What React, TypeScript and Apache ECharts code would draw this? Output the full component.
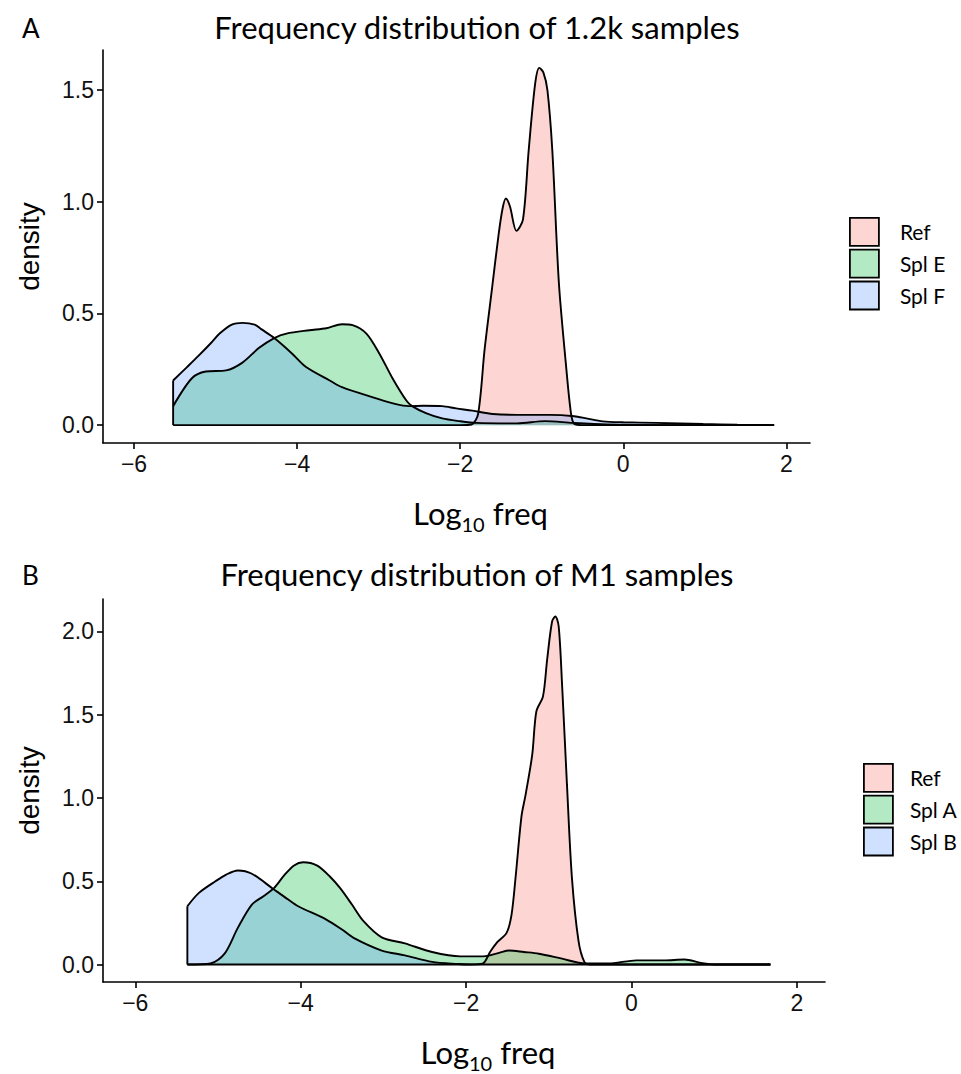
import React, { useEffect, useRef } from "react";
import * as echarts from "echarts";

// ---------- data ----------
const legendA = ["Ref", "Spl E", "Spl F"];
const legendB = ["Ref", "Spl A", "Spl B"];
const titleA = "Frequency distribution of 1.2k samples";
const titleB = "Frequency distribution of M1 samples";
const xTicks = [-6, -4, -2, 0, 2];
const yTicksA = [0, 0.5, 1.0, 1.5];
const yTicksB = [0, 0.5, 1.0, 1.5, 2.0];

const refA: number[][] = [
  [-5.52, 0], [-2.0, 0], [-1.86, 0.003], [-1.78, 0.05], [-1.7, 0.34], [-1.61, 0.61], [-1.53, 0.85],
  [-1.48, 0.97], [-1.44, 1.015], [-1.39, 0.98], [-1.31, 0.87], [-1.23, 0.92], [-1.16, 1.23],
  [-1.08, 1.53], [-1.03, 1.6], [-0.98, 1.58], [-0.93, 1.5], [-0.87, 1.23], [-0.79, 0.64],
  [-0.7, 0.26], [-0.64, 0.05], [-0.6, 0.005], [-0.5, 0], [1.85, 0],
];
const splE: number[][] = [
  [-5.52, 0.085], [-5.29, 0.21], [-5.12, 0.24], [-4.87, 0.245], [-4.67, 0.28], [-4.47, 0.345],
  [-4.28, 0.39], [-4.13, 0.41], [-3.85, 0.425], [-3.64, 0.434], [-3.45, 0.452], [-3.32, 0.448],
  [-3.15, 0.41], [-2.99, 0.32], [-2.83, 0.21], [-2.66, 0.11], [-2.59, 0.085], [-2.42, 0.054],
  [-2.22, 0.03], [-2.01, 0.018], [-1.8, 0.01], [-1.3, 0.008], [-0.96, 0.018], [-0.62, 0.01],
  [-0.2, 0.003], [0.5, 0], [1.85, 0],
];
const splF: number[][] = [
  [-5.52, 0.2], [-5.35, 0.26], [-5.21, 0.31], [-5.05, 0.37], [-4.95, 0.41], [-4.8, 0.45],
  [-4.67, 0.458], [-4.52, 0.45], [-4.44, 0.43], [-4.28, 0.39], [-4.06, 0.32], [-3.89, 0.26],
  [-3.6, 0.2], [-3.45, 0.17], [-3.03, 0.12], [-2.8, 0.095], [-2.63, 0.085], [-2.45, 0.087],
  [-2.22, 0.085], [-2.05, 0.075], [-1.85, 0.065], [-1.6, 0.05], [-1.3, 0.046], [-0.9, 0.046],
  [-0.6, 0.04], [-0.45, 0.03], [-0.25, 0.017], [0, 0.013], [0.41, 0.01], [0.98, 0.005],
  [1.4, 0.002], [1.85, 0],
];

const refB: number[][] = [
  [-5.37, 0], [-1.95, 0], [-1.8, 0.005], [-1.71, 0.075], [-1.63, 0.13], [-1.51, 0.19],
  [-1.45, 0.3], [-1.4, 0.53], [-1.33, 0.89], [-1.28, 1.02], [-1.2, 1.26], [-1.15, 1.52],
  [-1.07, 1.61], [-1.02, 1.83], [-0.96, 2.06], [-0.92, 2.09], [-0.88, 2.03], [-0.84, 1.69],
  [-0.78, 1.08], [-0.72, 0.52], [-0.64, 0.14], [-0.57, 0.016], [-0.5, 0], [1.68, 0],
];
const splA: number[][] = [
  [-5.37, 0], [-5.09, 0.006], [-4.92, 0.065], [-4.76, 0.22], [-4.59, 0.36], [-4.45, 0.41],
  [-4.32, 0.46], [-4.2, 0.535], [-4.08, 0.595], [-3.97, 0.614], [-3.8, 0.594], [-3.65, 0.53],
  [-3.52, 0.457], [-3.38, 0.36], [-3.24, 0.26], [-3.02, 0.163], [-2.74, 0.127], [-2.41, 0.075],
  [-2.07, 0.049], [-1.79, 0.049], [-1.6, 0.07], [-1.48, 0.084], [-1.3, 0.075], [-1.12, 0.065],
  [-0.84, 0.035], [-0.56, 0.006], [-0.28, 0.006], [0.06, 0.025], [0.39, 0.025], [0.64, 0.03],
  [0.84, 0.01], [1.0, 0], [1.68, 0],
];
const splB: number[][] = [
  [-5.37, 0.35], [-5.23, 0.43], [-5.03, 0.5], [-4.9, 0.54], [-4.76, 0.565], [-4.59, 0.545],
  [-4.34, 0.457], [-4.15, 0.39], [-4.03, 0.35], [-3.69, 0.27], [-3.5, 0.21], [-3.36, 0.16],
  [-3.02, 0.084], [-2.74, 0.055], [-2.41, 0.016], [-2.1, 0.003], [-1.96, 0], [1.68, 0],
];

// ---------- styles ----------
const FILLS = ["#F8766D", "#00BA38", "#619CFF"];
const KEYS = ["#FDD6D3", "#B3EAC3", "#D0E1FF"];
const TITLE_FONT = "Lato";
const TICK_FONT = "Liberation Sans";

const fmtX = (v: number) => (v < 0 ? "\u2212" + Math.abs(v) : String(v));
const fmtY = (v: number) => v.toFixed(1);

function xAxisCfg(idx: number, min: number, max: number) {
  return {
    type: "value",
    gridIndex: idx,
    min,
    max,
    splitLine: { show: false },
    axisLine: { onZero: false, lineStyle: { color: "#000", width: 1.6 } },
    axisTick: { length: 6, lineStyle: { color: "#000", width: 1.6 }, customValues: xTicks },
    axisLabel: {
      customValues: xTicks,
      formatter: fmtX,
      margin: 9,
      color: "#111",
      fontFamily: TICK_FONT,
      fontSize: 23,
    },
    name: "{a|Log}{s|10}{a| freq}",
    nameLocation: "middle",
    nameGap: 54,
    nameTextStyle: {
      padding: [0, 0, 0, 48],
      rich: {
        a: { fontFamily: TITLE_FONT, fontSize: 31, color: "#000", verticalAlign: "bottom", padding: [0, 0, 6, 0] },
        s: { fontFamily: TITLE_FONT, fontSize: 20, color: "#000", verticalAlign: "bottom" },
      },
    },
  };
}

function yAxisCfg(idx: number, min: number, max: number, ticks: number[]) {
  return {
    type: "value",
    gridIndex: idx,
    min,
    max,
    splitLine: { show: false },
    axisLine: { onZero: false, lineStyle: { color: "#000", width: 1.6 } },
    axisTick: { length: 6, lineStyle: { color: "#000", width: 1.6 }, customValues: ticks },
    axisLabel: {
      customValues: ticks,
      formatter: fmtY,
      margin: 9,
      color: "#111",
      fontFamily: TICK_FONT,
      fontSize: 23,
    },
    name: "density",
    nameLocation: "middle",
    nameRotate: 90,
    nameGap: 60,
    nameTextStyle: { fontFamily: TICK_FONT, fontSize: 28, color: "#000" },
  };
}

function densitySeries(name: string, data: number[][], color: string, idx: number) {
  return {
    type: "line",
    name,
    xAxisIndex: idx,
    yAxisIndex: idx,
    data,
    smooth: 0.3,
    showSymbol: false,
    symbol: "none",
    itemStyle: { color },
    lineStyle: { color: "#000", width: 1.9 },
    areaStyle: { color, opacity: 0.3 },
    emphasis: { disabled: true },
  };
}

function edgeSeries(first: number[], idx: number) {
  return {
    type: "line",
    name: "edge" + idx,
    xAxisIndex: idx,
    yAxisIndex: idx,
    data: [[first[0], 0], first],
    showSymbol: false,
    symbol: "none",
    lineStyle: { color: "#000", width: 1.9 },
    emphasis: { disabled: true },
    z: 5,
  };
}

function legendCfg(names: string[], left: number, top: number, pad: number) {
  return {
    orient: "vertical",
    left,
    top,
    padding: 0,
    itemWidth: 29,
    itemHeight: 28,
    itemGap: 2,
    icon: "rect",
    selectedMode: false,
    textStyle: { fontFamily: TITLE_FONT, fontSize: 21, color: "#000", padding: [0, 0, 0, pad] },
    data: names.map((n, i) => ({
      name: n,
      itemStyle: { color: KEYS[i], borderColor: "#000", borderWidth: 1.8 },
    })),
  };
}

export default function App() {
  const ref = useRef<HTMLDivElement>(null);
  useEffect(() => {
    if (!ref.current) return;
    const chart = echarts.init(ref.current, undefined, { renderer: "svg" });
    const titleStyle = { fontFamily: TITLE_FONT, fontSize: 31, fontWeight: "normal", color: "#000" };
    const letterStyle = { fontFamily: TITLE_FONT, fontSize: 26, fontWeight: "normal", color: "#000" };
    const option = {
      animation: false,
      backgroundColor: "#fff",
      grid: [
        { left: 103, top: 50, width: 707, height: 393 },
        { left: 103, top: 599, width: 722, height: 390 },
      ],
      xAxis: [xAxisCfg(0, -6.38, 2.29), xAxisCfg(1, -6.39, 2.34)],
      yAxis: [yAxisCfg(0, -0.08, 1.68, yTicksA), yAxisCfg(1, -0.105, 2.195, yTicksB)],
      legend: [legendCfg(legendA, 849, 217, 16), legendCfg(legendB, 863, 763, 12)],
      title: [
        { text: "A", left: 22, top: 15, padding: 0, textStyle: letterStyle },
        { text: titleA, left: 477, top: 11, textAlign: "center", padding: 0, textStyle: titleStyle },
        { text: "B", left: 22, top: 562, padding: 0, textStyle: letterStyle },
        { text: titleB, left: 477, top: 558, textAlign: "center", padding: 0, textStyle: titleStyle },
      ],
      series: [
        densitySeries(legendA[0], refA, FILLS[0], 0),
        densitySeries(legendA[1], splE, FILLS[1], 0),
        densitySeries(legendA[2], splF, FILLS[2], 0),
        edgeSeries(splF[0], 0),
        densitySeries(legendB[0], refB, FILLS[0], 1),
        densitySeries(legendB[1], splA, FILLS[1], 1),
        densitySeries(legendB[2], splB, FILLS[2], 1),
        edgeSeries(splB[0], 1),
      ],
    };
    chart.setOption(option as any);
    return () => chart.dispose();
  }, []);
  return (
    <div
      ref={ref}
      style={{ position: "fixed", left: 0, top: 0, width: 961, height: 1074, background: "#fff" }}
    />
  );
}
